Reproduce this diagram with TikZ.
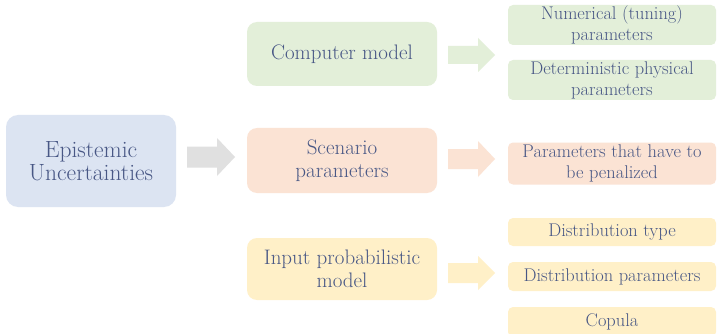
\documentclass[tikz,border=0pt]{standalone}
\definecolor{txt}{HTML}{485785}
\definecolor{cblue}{HTML}{DCE4F2}
\definecolor{cgreen}{HTML}{E3EFD9}
\definecolor{corange}{HTML}{FBE3D4}
\definecolor{cyellow}{HTML}{FFF0C8}
\definecolor{cgray}{HTML}{E0E0E0}
\begin{document}
\begin{tikzpicture}[x=1pt,y=-1pt,
  bigbox/.style={fill=cblue, rounded corners=12pt, text=txt, align=center, inner sep=0pt,
    minimum width=170pt, minimum height=92pt, font=\fontsize{23.5}{23.5}\selectfont},
  midbox/.style={rounded corners=10pt, text=txt, align=center, inner sep=0pt,
    minimum width=190pt, font=\fontsize{21}{23}\selectfont},
  rbox/.style={rounded corners=5pt, text=txt, align=center, inner sep=0pt,
    minimum width=208pt, font=\fontsize{18.4}{21}\selectfont},
  blockarrow/.style={fill=#1, draw=none}
]
\useasboundingbox (0,0) rectangle (717,334);
\fill[white] (0,0) rectangle (717,334);

% left box
\node[bigbox] (epi) at (91,161) {Epistemic\\Uncertainties};

% middle boxes
\node[midbox, fill=cgreen, minimum height=64pt] (comp) at (342,54) {Computer model};
\node[midbox, fill=corange, minimum height=65pt] (scen) at (342,160.5) {Scenario\\parameters};
\node[midbox, fill=cyellow, minimum height=62pt] (inp) at (342,269) {Input probabilistic\\model};

% right boxes
\node[rbox, fill=cgreen, minimum height=40pt] (num) at (612,25) {Numerical (tuning)\\parameters};
\node[rbox, fill=cgreen, minimum height=40pt] (det) at (612,80) {Deterministic physical\\parameters};
\node[rbox, fill=corange, minimum height=42pt] (pen) at (612,163.5) {Parameters that have to\\be penalized};
\node[rbox, fill=cyellow, minimum height=28pt] (dtype) at (612,232) {Distribution type};
\node[rbox, fill=cyellow, minimum height=29pt] (dpar) at (612,276.5) {Distribution parameters};
\node[rbox, fill=cyellow, minimum height=30pt] (cop) at (612,322) {Copula};

% block arrows
\coordinate (ga) at (187,157);
\fill[blockarrow=cgray] (ga) ++(0,-10.5) -- ++(30,0) -- ++(0,-8.5) -- ++(18,19) -- ++(-18,19) -- ++(0,-8.5) -- ++(-30,0) -- cycle;
\coordinate (gr) at (448,55);
\fill[blockarrow=cgreen] (gr) ++(0,-9) -- ++(30,0) -- ++(0,-8) -- ++(17,17) -- ++(-17,17) -- ++(0,-8) -- ++(-30,0) -- cycle;
\coordinate (or) at (448,159);
\fill[blockarrow=corange] (or) ++(0,-10) -- ++(30,0) -- ++(0,-8) -- ++(17,18) -- ++(-17,18) -- ++(0,-8) -- ++(-30,0) -- cycle;
\coordinate (ye) at (448,273);
\fill[blockarrow=cyellow] (ye) ++(0,-10) -- ++(30,0) -- ++(0,-7) -- ++(17,17) -- ++(-17,17) -- ++(0,-7) -- ++(-30,0) -- cycle;
\end{tikzpicture}
\end{document}
